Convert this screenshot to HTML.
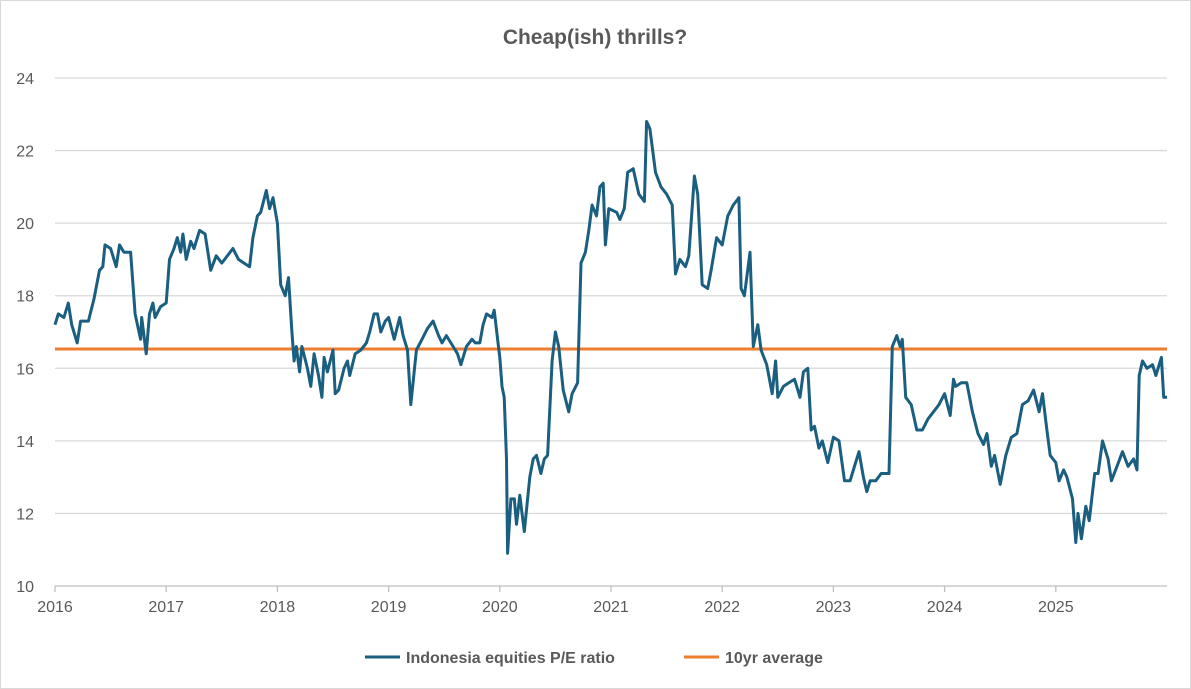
<!DOCTYPE html>
<html><head><meta charset="utf-8"><style>
html,body{margin:0;padding:0;background:#fff}
svg{display:block;font-family:"Liberation Sans",Arial,sans-serif}
</style></head><body>
<svg width="1191" height="689" viewBox="0 0 1191 689">
<rect x="0.5" y="0.5" width="1190" height="688" fill="#fff" stroke="#d9d9d9"/>
<text x="595" y="44" text-anchor="middle" font-size="21" font-weight="bold" fill="#595959">Cheap(ish) thrills?</text>
<g id="grid"></g>
<g id="ylab"></g>
<g id="xlab"></g>
<g id="series"></g>
<g>
<line x1="365" y1="657" x2="400" y2="657" stroke="#1a5e80" stroke-width="3"/>
<text x="406" y="663" font-size="16" font-weight="bold" fill="#595959">Indonesia equities P/E ratio</text>
<line x1="684" y1="657" x2="719" y2="657" stroke="#ed7d31" stroke-width="3"/>
<text x="725" y="663" font-size="16" font-weight="bold" fill="#595959">10yr average</text>
</g>
</svg>
<script>
const yTicks=[10,12,14,16,18,20,22,24];
const xTicks=[2016,2017,2018,2019,2020,2021,2022,2023,2024,2025];
const avgValue=16.53;
const dates=[2016.0,2016.03,2016.08,2016.12,2016.15,2016.2,2016.23,2016.3,2016.35,2016.4,2016.43,2016.45,2016.5,2016.55,2016.58,2016.62,2016.68,2016.72,2016.77,2016.78,2016.82,2016.85,2016.88,2016.9,2016.95,2017.0,2017.03,2017.07,2017.1,2017.13,2017.15,2017.18,2017.22,2017.25,2017.3,2017.35,2017.4,2017.45,2017.5,2017.6,2017.65,2017.7,2017.75,2017.78,2017.82,2017.85,2017.9,2017.93,2017.96,2018.0,2018.03,2018.07,2018.1,2018.13,2018.15,2018.17,2018.2,2018.22,2018.27,2018.3,2018.33,2018.37,2018.4,2018.42,2018.45,2018.5,2018.52,2018.55,2018.6,2018.63,2018.65,2018.7,2018.75,2018.8,2018.83,2018.87,2018.9,2018.93,2018.97,2019.0,2019.05,2019.1,2019.13,2019.17,2019.2,2019.25,2019.3,2019.35,2019.4,2019.45,2019.48,2019.52,2019.58,2019.62,2019.65,2019.7,2019.75,2019.78,2019.82,2019.85,2019.88,2019.93,2019.95,2019.98,2020.0,2020.02,2020.04,2020.06,2020.07,2020.1,2020.13,2020.15,2020.18,2020.22,2020.27,2020.3,2020.33,2020.37,2020.4,2020.43,2020.47,2020.5,2020.53,2020.57,2020.62,2020.65,2020.7,2020.73,2020.77,2020.8,2020.83,2020.87,2020.9,2020.93,2020.95,2020.98,2021.05,2021.08,2021.12,2021.15,2021.2,2021.25,2021.3,2021.32,2021.35,2021.4,2021.45,2021.5,2021.55,2021.58,2021.62,2021.67,2021.7,2021.75,2021.78,2021.82,2021.87,2021.9,2021.95,2022.0,2022.05,2022.1,2022.15,2022.17,2022.2,2022.25,2022.28,2022.32,2022.35,2022.4,2022.45,2022.48,2022.5,2022.55,2022.6,2022.65,2022.7,2022.73,2022.77,2022.8,2022.83,2022.87,2022.9,2022.95,2023.0,2023.05,2023.1,2023.15,2023.2,2023.23,2023.27,2023.3,2023.33,2023.38,2023.43,2023.5,2023.53,2023.57,2023.6,2023.62,2023.65,2023.7,2023.75,2023.8,2023.85,2023.9,2023.95,2024.0,2024.05,2024.08,2024.1,2024.15,2024.2,2024.25,2024.3,2024.35,2024.38,2024.42,2024.45,2024.5,2024.55,2024.6,2024.65,2024.7,2024.75,2024.8,2024.85,2024.88,2024.92,2024.95,2025.0,2025.03,2025.07,2025.1,2025.15,2025.18,2025.2,2025.23,2025.27,2025.3,2025.35,2025.38,2025.42,2025.47,2025.5,2025.55,2025.6,2025.65,2025.7,2025.73,2025.75,2025.78,2025.82,2025.87,2025.9,2025.95,2025.97,2026.0];
const peValues=[17.2,17.5,17.4,17.8,17.2,16.7,17.3,17.3,17.9,18.7,18.8,19.4,19.3,18.8,19.4,19.2,19.2,17.5,16.8,17.4,16.4,17.5,17.8,17.4,17.7,17.8,19.0,19.3,19.6,19.2,19.7,19.0,19.5,19.3,19.8,19.7,18.7,19.1,18.9,19.3,19.0,18.9,18.8,19.6,20.2,20.3,20.9,20.4,20.7,20.0,18.3,18.0,18.5,17.0,16.2,16.6,15.9,16.6,16.0,15.5,16.4,15.8,15.2,16.3,15.9,16.5,15.3,15.4,16.0,16.2,15.8,16.4,16.5,16.7,17.0,17.5,17.5,17.0,17.3,17.4,16.8,17.4,16.9,16.5,15.0,16.5,16.8,17.1,17.3,16.9,16.7,16.9,16.6,16.4,16.1,16.6,16.8,16.7,16.7,17.2,17.5,17.4,17.6,16.8,16.3,15.5,15.2,13.5,10.9,12.4,12.4,11.7,12.5,11.5,13.0,13.5,13.6,13.1,13.5,13.6,16.2,17.0,16.6,15.4,14.8,15.3,15.6,18.9,19.2,19.8,20.5,20.2,21.0,21.1,19.4,20.4,20.3,20.1,20.4,21.4,21.5,20.8,20.6,22.8,22.6,21.4,21.0,20.8,20.5,18.6,19.0,18.8,19.1,21.3,20.8,18.3,18.2,18.7,19.6,19.4,20.2,20.5,20.7,18.2,18.0,19.2,16.6,17.2,16.5,16.1,15.3,16.2,15.2,15.5,15.6,15.7,15.2,15.9,16.0,14.3,14.4,13.8,14.0,13.4,14.1,14.0,12.9,12.9,13.4,13.7,13.0,12.6,12.9,12.9,13.1,13.1,16.6,16.9,16.6,16.8,15.2,15.0,14.3,14.3,14.6,14.8,15.0,15.3,14.7,15.7,15.5,15.6,15.6,14.8,14.2,13.9,14.2,13.3,13.6,12.8,13.6,14.1,14.2,15.0,15.1,15.4,14.8,15.3,14.3,13.6,13.4,12.9,13.2,13.0,12.4,11.2,12.0,11.3,12.2,11.8,13.1,13.1,14.0,13.5,12.9,13.3,13.7,13.3,13.5,13.2,15.8,16.2,16.0,16.1,15.8,16.3,15.2,15.2];
const NS='http://www.w3.org/2000/svg';
const X0=55,X1=1167,Y0=586,Y1=78;
const xs=d=>X0+(d-2016)/(2026-2016)*(X1-X0);
const ys=v=>Y0-(v-10)/(24-10)*(Y0-Y1);
function mk(tag,attrs,parent){const e=document.createElementNS(NS,tag);for(const k in attrs)e.setAttribute(k,attrs[k]);parent.appendChild(e);return e;}
const grid=document.getElementById('grid'),ylab=document.getElementById('ylab'),xlab=document.getElementById('xlab'),ser=document.getElementById('series');
yTicks.forEach(t=>{
 const l=mk('line',{x1:X0,x2:X1,y1:ys(t),y2:ys(t),stroke:t===10?'#bfbfbf':'#d9d9d9','stroke-width':1.3},grid);
 
 
 const tx=mk('text',{x:34,y:ys(t)+6,'text-anchor':'end','font-size':16,fill:'#595959'},ylab);
 tx.textContent=t;
 
 
});
xTicks.forEach(t=>{
 const tk=mk('line',{x1:xs(t),x2:xs(t),y1:Y0,y2:Y0+6,stroke:'#bfbfbf','stroke-width':1.3},xlab);
 
 
 const tx=mk('text',{x:xs(t),y:Y0+26,'text-anchor':'middle','font-size':16,fill:'#595959'},xlab);
 tx.textContent=t;
 
 
});
const avg=mk('line',{x1:X0,x2:X1,y1:ys(avgValue),y2:ys(avgValue),stroke:'#ed7d31','stroke-width':3},ser);


const pts=dates.map((d,i)=>xs(d).toFixed(1)+','+ys(peValues[i]).toFixed(1)).join(' ');
const pl=mk('polyline',{points:pts,fill:'none',stroke:'#1a5e80','stroke-width':3,'stroke-linejoin':'round'},ser);


</script>
</body></html>
